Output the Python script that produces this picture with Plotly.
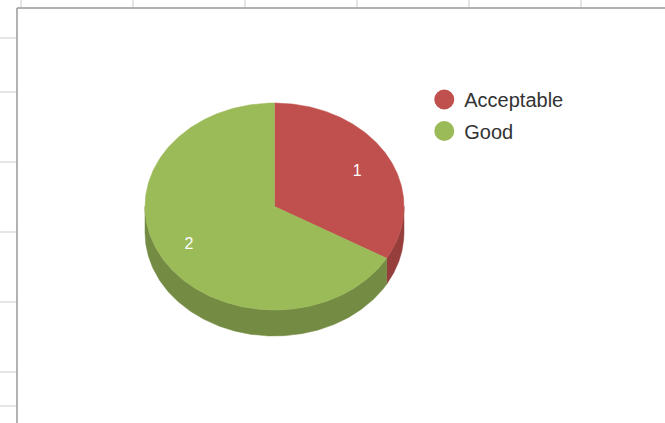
import numpy as np
import plotly.graph_objects as go

# Data
categories = ["Acceptable", "Good"]
values = [1, 2]

# Styles
top_colors = ["#C0504D", "#9BBB59"]
side_colors = ["#953E3C", "#738B42"]
W, H = 665, 423
CX, CY, RX, RY, DEPTH = 274.5, 206.5, 129.5, 103.5, 26
LABEL_FX, LABEL_FY = 0.75, 0.705


def ell(theta, dy=0.0, fx=1.0, fy=1.0):
    return CX + fx * RX * np.sin(theta), CY + dy - fy * RY * np.cos(theta)


fig = go.Figure()
total = sum(values)
edges = np.concatenate([[0], np.cumsum(values)]) / total * 2 * np.pi

# side walls (only the front half of the rim is visible)
for i, cat in enumerate(categories):
    a = max(edges[i], np.pi / 2)
    b = min(edges[i + 1], 3 * np.pi / 2)
    if b <= a:
        continue
    t = np.linspace(a, b, 200)
    x1, y1 = ell(t)
    x2, y2 = ell(t[::-1], dy=DEPTH)
    fig.add_trace(go.Scatter(
        x=np.r_[x1, x2, x1[0]], y=np.r_[y1, y2, y1[0]], mode="lines", fill="toself",
        fillcolor=side_colors[i], line=dict(width=0.5, color=side_colors[i]),
        showlegend=False, hoverinfo="skip"))

# top face wedges
for i, cat in enumerate(categories):
    t = np.linspace(edges[i], edges[i + 1], 300)
    x, y = ell(t)
    fig.add_trace(go.Scatter(
        x=np.r_[CX, x, CX], y=np.r_[CY, y, CY], mode="lines", fill="toself",
        fillcolor=top_colors[i], line=dict(width=0.5, color=top_colors[i]),
        showlegend=False, name=cat, hoverinfo="name"))

# value labels
mid = (edges[:-1] + edges[1:]) / 2
lx, ly = ell(mid, fx=LABEL_FX, fy=LABEL_FY)
fig.add_trace(go.Scatter(
    x=lx - 1.5, y=ly + 2, mode="text", text=[str(v) for v in values],
    textfont=dict(family="Liberation Sans, Arial, sans-serif", size=16, color="white"),
    textposition="middle center", showlegend=False, hoverinfo="skip"))

# legend entries
for i, cat in enumerate(categories):
    fig.add_trace(go.Scatter(
        x=[None], y=[None], mode="markers", name=cat, legendgroup=cat,
        marker=dict(color=top_colors[i], size=16, symbol="circle",
                    line=dict(color=top_colors[i], width=4))))

# spreadsheet behind the chart
FRAME_X, FRAME_Y = 17, 8
grid_x = [21, 133, 245, 357, 469, 581]
grid_y = [38, 92, 162, 232, 302, 372, 406]
shapes = []
for gx in grid_x:
    shapes.append(dict(type="line", x0=gx, x1=gx, y0=0, y1=FRAME_Y, line=dict(color="#DDDDDD", width=1.5)))
for gy in grid_y:
    shapes.append(dict(type="line", x0=0, x1=FRAME_X, y0=gy, y1=gy, line=dict(color="#DDDDDD", width=1.5)))
shapes.append(dict(type="line", x0=FRAME_X, x1=FRAME_X, y0=FRAME_Y, y1=H, line=dict(color="#999999", width=1.5)))
shapes.append(dict(type="line", x0=FRAME_X, x1=W, y0=FRAME_Y, y1=FRAME_Y, line=dict(color="#999999", width=1.5)))

fig.update_layout(
    width=W, height=H, margin=dict(l=0, r=0, t=0, b=0),
    paper_bgcolor="white", plot_bgcolor="white",
    xaxis=dict(range=[0, W], visible=False, fixedrange=True),
    yaxis=dict(range=[H, 0], visible=False, fixedrange=True),
    shapes=shapes,
    legend=dict(x=0.638, y=0.811, xanchor="left", yanchor="top", tracegroupgap=2.6,
                bgcolor="rgba(0,0,0,0)",
                font=dict(family="Liberation Sans, Arial, sans-serif", size=20, color="#333333")),
)
fig.write_html("out.html", config=dict(displayModeBar=False),
               post_script="document.body.style.margin='0';")
